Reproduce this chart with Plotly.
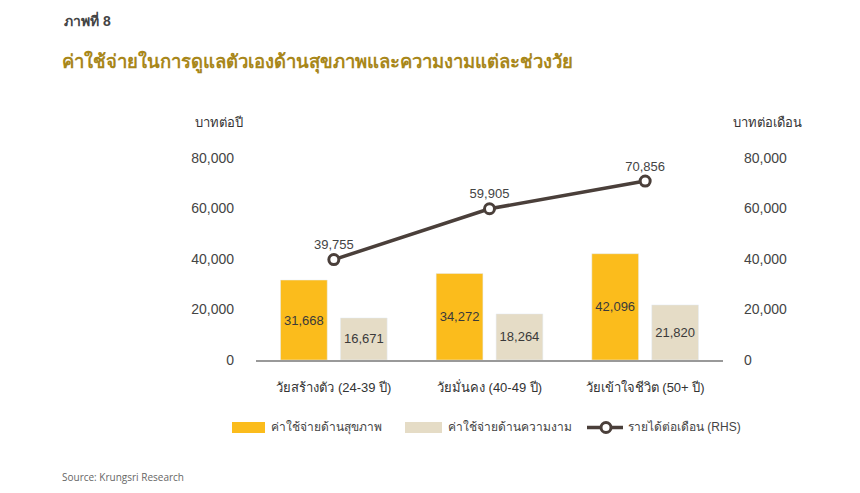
import plotly.graph_objects as go

# Data
categories = ['วัยสร้างตัว (24-39 ปี)', 'วัยมั่นคง (40-49 ปี)', 'วัยเข้าใจชีวิต (50+ ปี)']
health = [31668, 34272, 42096]
beauty = [16671, 18264, 21820]
income = [39755, 59905, 70856]
y_ticks = [0, 20000, 40000, 60000, 80000]

names = ['ค่าใช้จ่ายด้านสุขภาพ', 'ค่าใช้จ่ายด้านความงาม', 'รายได้ต่อเดือน (RHS)']
yellow, beige, dark = '#fbbc1c', '#e5dcc6', '#4a3f3a'
font = 'Liberation Sans, Noto Sans'

# page body has an 8px margin, so work in page pixels and shift
OFF = 8
W, H = 860 - OFF, 493 - OFF
L, R, T, B = 256, 723, 158, 360


def px(x):
    return (x - L) / (R - L)


def py(y):
    return (B - y) / (B - T)


fig = go.Figure()

fig.add_trace(go.Bar(
    x=categories, y=health, name=names[0], marker_color=yellow,
    text=[f'{v:,}' for v in health], textposition='inside',
    insidetextanchor='middle', textfont=dict(size=13, color='#3a3a3a'),
))
fig.add_trace(go.Bar(
    x=categories, y=beauty, name=names[1], marker_color=beige,
    text=[f'{v:,}' for v in beauty], textposition='inside',
    insidetextanchor='middle', textfont=dict(size=13, color='#3a3a3a'),
))
fig.add_trace(go.Scatter(
    x=categories, y=income, name=names[2], yaxis='y2',
    mode='lines+markers+text',
    line=dict(color=dark, width=3.5),
    marker=dict(size=10, color='white', line=dict(color=dark, width=3)),
    text=[f'{v:,}' for v in income], textposition='top center',
    textfont=dict(size=13, color='#444'),
))

# hand-drawn legend (bigger swatches than plotly's)
shapes = [
    dict(type='rect', x0=232, x1=265, y0=422, y1=433, fillcolor=yellow, line_width=0),
    dict(type='rect', x0=405, x1=442, y0=422, y1=433, fillcolor=beige, line_width=0),
    dict(type='line', x0=587, x1=623, y0=427.5, y1=427.5, line=dict(color=dark, width=3.5)),
    dict(type='circle', x0=601, x1=611, y0=422.5, y1=432.5, fillcolor='white',
         line=dict(color=dark, width=3)),
]
for s in shapes:
    s['xref'], s['yref'] = 'paper', 'paper'
    s['x0'], s['x1'] = px(s['x0']), px(s['x1'])
    s['y0'], s['y1'] = py(s['y0']), py(s['y1'])

annotations = [
    dict(text='<b>ภาพที่ 8</b>', x=62, y=20, font=dict(size=14, color='#444')),
    dict(text='<b>ค่าใช้จ่ายในการดูแลตัวเองด้านสุขภาพและความงามแต่ละช่วงวัย</b>',
         x=60, y=62, font=dict(size=18.5, color='#a8871a')),
    dict(text='บาทต่อปี', x=193, y=122, font=dict(size=13, color='#333')),
    dict(text='บาทต่อเดือน', x=731, y=122, font=dict(size=13, color='#333')),
    dict(text=names[0], x=269, y=427, font=dict(size=12, color='#444')),
    dict(text=names[1], x=446, y=427, font=dict(size=12, color='#444')),
    dict(text=names[2], x=626, y=427, font=dict(size=12, color='#444')),
    dict(text='Source: Krungsri Research', x=60, y=477,
         font=dict(family='Open Sans', size=10, color='#666')),
]
for a in annotations:
    a.update(xref='paper', yref='paper', x=px(a['x']), y=py(a['y']),
             xanchor='left', yanchor='middle', showarrow=False)

fig.update_layout(
    width=W, height=H,
    margin=dict(l=L - OFF, r=W - (R - OFF), t=T - OFF, b=H - (B - OFF), pad=0),
    paper_bgcolor='white', plot_bgcolor='white',
    font=dict(family=font, color='#444', size=13),
    barmode='group', bargap=0.23, bargroupgap=0.22,
    showlegend=False,
    xaxis=dict(showline=True, linecolor='#999', linewidth=1.5, ticks='',
               ticklabelstandoff=15, tickfont=dict(size=13, color='#333'), showgrid=False),
    yaxis=dict(range=[0, 80000], tickvals=y_ticks, tickformat=',', showgrid=False,
               zeroline=False, ticklabelstandoff=21, tickfont=dict(size=14, color='#444')),
    yaxis2=dict(range=[0, 80000], tickvals=y_ticks, tickformat=',', showgrid=False,
                zeroline=False, overlaying='y', side='right', ticklabelstandoff=20,
                tickfont=dict(size=14, color='#444')),
    shapes=shapes,
    annotations=annotations,
)

fig.write_html('out.html')
